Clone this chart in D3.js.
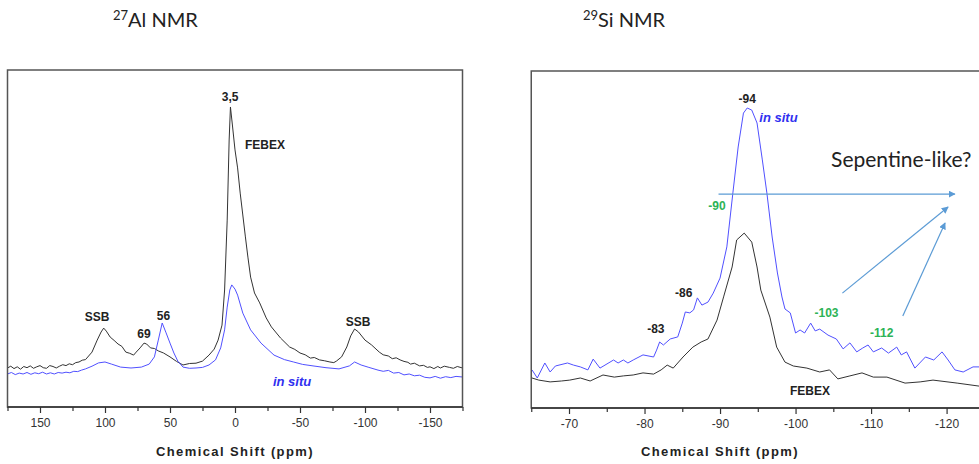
<!DOCTYPE html>
<html>
<head>
<meta charset="utf-8">
<script src="https://cdn.jsdelivr.net/npm/d3@7"></script>
<style>
  body { margin: 0; background: #fff; }
  svg { display: block; }
</style>
</head>
<body>
<div id="vis"></div>
<script>
// 27Al spectrum, ppm and intensity (FEBEX peak = 100)
var alFebexPpm = [175, 172.5, 170, 167.5, 165, 162.5, 160, 157.5, 155, 152.5, 150, 147.5, 145, 142.5, 140, 137.5, 135, 132.5, 130, 127.5, 125, 122.5, 120, 117.5, 115,
  110, 106, 103, 101, 99, 96, 93, 90, 87, 84, 81, 78, 76, 73, 70, 68, 65, 62, 59, 55, 50, 45, 40, 35, 30, 25, 20, 16, 13, 10, 8, 6, 4.5, 3.5, 2, 0, -2, -4, -6, -8, -10, -12, -15, -19, -24, -28, -35,
  -42, -46, -50, -54, -58, -61, -65, -69, -73, -76, -78,
  -82, -86, -89, -92, -95, -100, -105,
  -111, -114, -118, -121, -124, -127, -130, -133, -135, -138, -142, -145, -148, -150, -153, -156, -158, -161, -165, -168, -171, -175];
var alFebex = [13.0, 13.6, 12.8, 13.4, 12.6, 13.5, 13.1, 13.7, 12.9, 13.4, 13.8, 13.1, 12.9, 13.8, 13.5, 13.0, 13.6, 14.1, 13.8, 14.4, 14.1, 14.8, 15.0, 15.6, 15.8,
  18.3, 22.3, 25.0, 26.3, 25.3, 23.3, 22.2, 21.0, 20.2, 18.3, 17.9, 17.3, 18.3, 19.7, 21.3, 21.0, 19.7, 19.5, 18.7, 18.0, 16.7, 15.2, 14.0, 14.5, 14.6, 15.3, 17.3, 19.3, 22.3, 27.3, 39.0, 62.3, 89.0, 100, 94.0, 85.7, 79.7, 71.3, 64.0, 56.7, 49.7, 43.3, 38.0, 34.7, 29.7, 26.7, 23.0,
  20.0, 19.2, 18.0, 17.4, 16.3, 16.5, 15.7, 15.4, 15.0, 14.8, 15.3,
  16.7, 20.0, 23.7, 26.0, 25.0, 22.3, 20.7,
  18.3, 17.4, 17.0, 16.1, 16.4, 15.7, 15.2, 14.9, 14.3, 14.6, 13.7, 13.9, 13.2, 13.4, 12.8, 13.5, 13.0, 13.6, 13.2, 12.9, 13.5, 13.0];

var alInSituPpm = [175, 172, 169, 166, 163, 160, 157, 154, 151, 148, 145, 142, 139, 136, 133, 130, 127, 124, 121, 118, 115,
  110, 105, 100, 95, 88, 80, 72, 66, 62, 59, 56, 53, 50, 47, 44, 40, 35, 30, 25, 20, 15, 11, 8, 6, 4, 2.5, 0, -2, -6, -12, -20, -30, -38, -45, -52, -60, -70, -80, -88, -92, -97, -103,
  -110, -114, -118, -122, -126, -130, -134, -138, -142, -146, -150, -154, -158, -162, -166, -170, -175];
var alInSitu = [11.0, 11.5, 10.8, 11.3, 11.0, 11.5, 10.9, 11.4, 11.1, 11.6, 11.0, 11.4, 11.0, 11.5, 11.3, 11.6, 11.4, 11.9, 11.8, 12.3, 12.7,
  13.6, 14.7, 15.0, 14.3, 13.3, 13.0, 13.3, 14.3, 16.7, 22.3, 28.0, 24.7, 21.3, 18.0, 15.3, 13.3, 12.9, 13.0, 13.2, 14.0, 15.7, 19.7, 25.7, 33.3, 39.0, 40.7, 39.3, 37.3, 31.3, 25.7, 21.3, 17.3, 15.8, 15.0, 14.2, 13.7, 13.1, 12.7, 13.7, 15.0, 14.0, 13.2,
  12.3, 11.9, 12.2, 11.3, 11.5, 10.7, 11.0, 10.4, 10.6, 9.9, 9.7, 10.2, 9.6, 10.1, 9.8, 10.2, 10.0];

// 29Si spectrum, ppm and intensity (in situ peak = 100)
var siInSituPpm = [-65.1, -65.8, -66.8, -67.5, -68.2, -69.8, -70.6, -71.5, -72.5, -73.2, -74.1, -75.9, -76.5, -77.2, -77.8, -78.5, -79.8, -81.2, -81.6, -82, -82.5, -83.4, -84.4, -85, -85.4, -86, -86.5, -87, -87.6, -88.4, -89.1, -90, -90.9, -91.7, -92.4, -93.1, -93.6, -94.2, -94.9, -95.6, -96.2, -96.9, -97.6, -98.2, -98.6, -99.3, -100, -100.6, -101.2, -102, -102.6, -103.2, -104.3, -105.4, -106.3, -107.2, -108.1, -108.9, -109.6, -110.3, -111.4, -112.3, -113.4, -114, -114.7, -115.8, -117.2, -118.3, -119.4, -120.2, -121.1, -122.2, -123.5, -124.3, -126];
var siInSitu = [12.7, 10.0, 15.0, 12.0, 14.0, 15.0, 14.3, 13.7, 12.7, 16.3, 13.3, 16.0, 15.0, 16.0, 15.0, 16.0, 17.7, 17.0, 19.3, 22.0, 21.0, 23.0, 23.7, 28.3, 32.0, 31.7, 32.7, 36.7, 34.3, 35.3, 38.3, 43.3, 53.7, 71.7, 87.0, 98.3, 100, 99.3, 95.0, 82.7, 71.7, 57.0, 45.0, 37.0, 33.0, 31.7, 25.0, 26.0, 25.0, 28.3, 25.7, 26.3, 24.3, 23.0, 19.7, 21.7, 18.7, 20.0, 21.0, 18.7, 20.0, 18.3, 20.3, 17.7, 18.7, 13.3, 17.0, 16.0, 18.7, 16.0, 12.7, 12.0, 13.7, 13.7, 14.0];

var siFebexPpm = [-65.1, -66, -67.5, -69, -70.1, -71.5, -72.8, -74.5, -76, -77.2, -78.5, -79.8, -81.2, -82.2, -83, -83.8, -85.1, -86.4, -87.5, -88.4, -89.6, -90.5, -91.6, -92.2, -93.2, -94.2, -94.9, -95.4, -96.6, -97.5, -98.6, -99.7, -101.5, -103.2, -104.5, -105.6, -107.2, -108.8, -110.3, -112.1, -114.5, -116.5, -118.2, -121.4, -124.3, -126];
var siFebex = [10.0, 9.3, 8.7, 9.0, 9.3, 10.0, 9.0, 11.0, 10.3, 10.7, 11.0, 11.7, 11.3, 12.7, 14.3, 13.3, 17.0, 20.3, 22.0, 23.0, 29.3, 37.3, 47.0, 56.0, 58.3, 55.3, 47.0, 39.3, 30.3, 20.3, 15.3, 14.0, 13.3, 12.0, 12.7, 9.7, 10.7, 11.7, 10.3, 10.3, 8.3, 8.7, 9.3, 8.3, 7.3, 7.0];

var alTicks = [150, 100, 50, 0, -50, -100, -150];
var alMinor = [175, 125, 75, 25, -25, -75, -125, -175];
var siTicks = [-70, -80, -90, -100, -110, -120];
var siMinor = [-65, -75, -85, -95, -105, -115, -125];

// annotations: [text, ppm, intensity, colour, anchor, italic]
var alLabels = [
  ["3,5", 3.8, 102, "#222", "middle", false],
  ["FEBEX", -7.7, 86, "#222", "start", false],
  ["SSB", 106, 28.7, "#222", "middle", false],
  ["69", 70, 23, "#222", "middle", false],
  ["56", 55, 29, "#222", "middle", false],
  ["SSB", -94.6, 27, "#222", "middle", false],
  ["in situ", -29.2, 7, "#3030f0", "start", true]
];
var siLabels = [
  ["-94", -93.6, 101.7, "#222", "middle", false],
  ["in situ", -95.2, 95.3, "#3030f0", "start", true],
  ["-90", -89.6, 66, "#2db356", "middle", false],
  ["-86", -85.2, 37, "#222", "middle", false],
  ["-83", -81.5, 25, "#222", "middle", false],
  ["-103", -104.1, 30.3, "#2db356", "middle", false],
  ["-112", -111.4, 23.7, "#2db356", "middle", false],
  ["FEBEX", -101.9, 4.3, "#222", "middle", false]
];
// arrows: [fromPpm, fromI, toPpm, toI]
var siArrows = [
  [-89.8, 71.3, -121.1, 71.3],
  [-106.2, 38.3, -120.2, 67],
  [-114.2, 30.7, -119.8, 61.7]
];

var W = 979, H = 464;
var svg = d3.select("#vis").append("svg")
  .attr("width", W)
  .attr("height", H);

svg.append("defs").append("marker")
  .attr("id", "arrow")
  .attr("viewBox", "0 0 10 10")
  .attr("refX", 9)
  .attr("refY", 5)
  .attr("markerWidth", 7)
  .attr("markerHeight", 7)
  .attr("markerUnits", "userSpaceOnUse")
  .attr("orient", "auto")
  .append("path")
  .attr("d", "M0,0L10,5L0,10z")
  .attr("fill", "#5b9bd5");

function title(x, sup, rest) {
  var t = svg.append("text")
    .attr("x", x)
    .attr("y", 27)
    .attr("font-family", "Lato, 'Open Sans', sans-serif")
    .attr("font-size", "20px")
    .attr("fill", "#222");
  t.append("tspan").attr("font-size", "13px").attr("dy", -7).text(sup);
  t.append("tspan").attr("dy", 7).text(rest);
}
title(113, "27", "Al NMR");
title(583, "29", "Si NMR");

function panel(opts) {
  var x = d3.scaleLinear().domain(opts.xDomain).range(opts.xRange);
  var y = d3.scaleLinear().domain([0, 112.33]).range([opts.bottom, opts.top]);
  var g = svg.append("g");

  var clipId = "clip" + opts.id;
  g.append("clipPath").attr("id", clipId)
    .append("rect")
    .attr("x", opts.xRange[0])
    .attr("y", opts.top)
    .attr("width", opts.xRange[1] - opts.xRange[0])
    .attr("height", opts.bottom - opts.top);

  var line = d3.line()
    .x(function (d) { return x(d[0]); })
    .y(function (d) { return y(d[1]); });

  opts.series.forEach(function (s) {
    g.append("path")
      .datum(d3.zip(s.ppm, s.val))
      .attr("clip-path", "url(#" + clipId + ")")
      .attr("fill", "none")
      .attr("stroke", s.color)
      .attr("stroke-width", 1)
      .attr("stroke-linejoin", "round")
      .attr("d", line);
  });

  // frame
  g.append("rect")
    .attr("x", opts.xRange[0])
    .attr("y", opts.top)
    .attr("width", opts.xRange[1] - opts.xRange[0])
    .attr("height", opts.bottom - opts.top)
    .attr("fill", "none")
    .attr("stroke", "#555")
    .attr("stroke-width", 1.5);

  var axis = g.append("g")
    .attr("transform", "translate(0," + opts.bottom + ")")
    .call(d3.axisBottom(x).tickValues(opts.ticks).tickSize(6).tickPadding(5)
      .tickFormat(function (d) { return d; }));
  axis.select(".domain").remove();
  axis.selectAll("line").attr("stroke", "#333").attr("stroke-width", 1.2);
  axis.selectAll("text")
    .attr("font-family", "'Liberation Sans', Arial, sans-serif")
    .attr("font-size", "12px")
    .attr("fill", "#333");

  var minor = g.append("g")
    .attr("transform", "translate(0," + opts.bottom + ")")
    .call(d3.axisBottom(x).tickValues(opts.minor).tickSize(4).tickFormat(""));
  minor.select(".domain").remove();
  minor.selectAll("line").attr("stroke", "#333").attr("stroke-width", 1.2);

  g.append("line")
    .attr("x1", opts.xRange[0])
    .attr("x2", opts.xRange[1])
    .attr("y1", opts.bottom)
    .attr("y2", opts.bottom)
    .attr("stroke", "#333")
    .attr("stroke-width", 1.6);

  g.append("text")
    .attr("x", opts.titleX)
    .attr("y", 456)
    .attr("text-anchor", "middle")
    .attr("font-family", "'Liberation Sans', Arial, sans-serif")
    .attr("font-weight", "bold")
    .attr("font-size", "13px")
    .attr("letter-spacing", "1.4px")
    .attr("fill", "#222")
    .text("Chemical Shift (ppm)");

  opts.labels.forEach(function (l) {
    g.append("text")
      .attr("x", x(l[1]))
      .attr("y", y(l[2]))
      .attr("text-anchor", l[4])
      .attr("font-family", "'Liberation Sans', Arial, sans-serif")
      .attr("font-weight", "bold")
      .attr("font-style", l[5] ? "italic" : "normal")
      .attr("font-size", l[5] ? "13px" : "12px")
      .attr("fill", l[3])
      .text(l[0]);
  });

  return { x: x, y: y, g: g };
}

panel({
  id: "al",
  xDomain: [175, -175],
  xRange: [7.5, 462.5],
  top: 70,
  bottom: 407,
  ticks: alTicks,
  minor: alMinor,
  titleX: 235,
  series: [
    { ppm: alFebexPpm, val: alFebex, color: "#333" },
    { ppm: alInSituPpm, val: alInSitu, color: "#5050ff" }
  ],
  labels: alLabels
});

var si = panel({
  id: "si",
  xDomain: [-65, -128],
  xRange: [531.25, 1007],
  top: 71,
  bottom: 408,
  ticks: siTicks,
  minor: siMinor,
  titleX: 720,
  series: [
    { ppm: siFebexPpm, val: siFebex, color: "#333" },
    { ppm: siInSituPpm, val: siInSitu, color: "#5050ff" }
  ],
  labels: siLabels
});

si.g.selectAll(".arrow")
  .data(siArrows)
  .enter()
  .append("line")
  .attr("class", "arrow")
  .attr("x1", function (d) { return si.x(d[0]); })
  .attr("y1", function (d) { return si.y(d[1]); })
  .attr("x2", function (d) { return si.x(d[2]); })
  .attr("y2", function (d) { return si.y(d[3]); })
  .attr("stroke", "#5b9bd5")
  .attr("stroke-width", 1.2)
  .attr("marker-end", "url(#arrow)");

si.g.append("text")
  .attr("x", si.x(-104.7))
  .attr("y", si.y(80.3))
  .attr("font-family", "Lato, 'Open Sans', sans-serif")
  .attr("font-size", "21px")
  .attr("fill", "#222")
  .text("Sepentine-like?");
</script>
</body>
</html>
